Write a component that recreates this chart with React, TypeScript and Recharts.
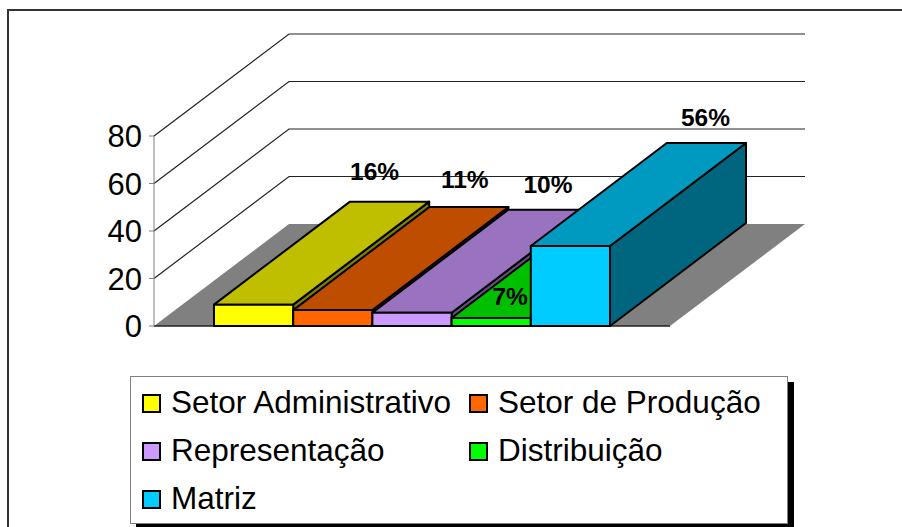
import React from 'react'
import { Bar, BarChart, CartesianGrid, LabelList, Legend, XAxis, YAxis } from 'recharts'

const seriesNames = ['Setor Administrativo', 'Setor de Produção', 'Representação', 'Distribuição', 'Matriz']
// bar heights as read against the drawn axis, the printed percents are separate
const seriesValues = [9, 6.7, 5.6, 3.4, 33.7]
const percentLabels = ['16%', '11%', '10%', '7%', '56%']
const axisTicks = [0, 20, 40, 60, 80]

const frontColors = ['#ffff00', '#ff6600', '#cc99ff', '#00ff00', '#00ccff']
const topColors = ['#bfbf00', '#bf4d00', '#9973bf', '#00bf00', '#0099bf']
const sideColors = ['#808000', '#803300', '#664d80', '#008000', '#006680']

// office places the value labels a bit off the bar, so nudge each one
const labelNudgeX = [-15, -4, 0, -117, -1]
const labelNudgeY = [-22, -19, -17, 90, -17]

const chartData = [
    seriesNames.reduce<Record<string, string | number>>(
        (row, name, i) => ({ ...row, [name]: seriesValues[i] }),
        { group: 'Total' }
    ),
]

const FONT = '"Liberation Sans", Arial, sans-serif'
const DEPTH_X = 136
const DEPTH_Y = 103
const WALL_X = 135
const WALL_Y = 102

// grid lines are the one layer that stays behind the bars, so the floor and walls live here
const WallLine = ({ x1, x2, y1, y, height }: any) => {
    if (Math.abs(y1 - (y + height)) < 1) {
        return (
            <g>
                <polygon
                    points={`${x1},${y1} ${x1 + WALL_X},${y1 - WALL_Y} ${x2 + WALL_X},${y1 - WALL_Y} ${x2},${y1}`}
                    fill="#808080"
                />
                <line x1={x1} y1={y1} x2={x2} y2={y1} stroke="#222" strokeWidth={1.5} />
            </g>
        )
    }
    return (
        <polyline
            points={`${x1},${y1} ${x1 + WALL_X},${y1 - WALL_Y} ${x2 + WALL_X},${y1 - WALL_Y}`}
            fill="none"
            stroke="#222"
            strokeWidth={1.2}
        />
    )
}

const Box3D = ({ x, y, width, height, fill, top, side }: any) => {
    const r = x + width
    const b = y + height
    return (
        <g stroke="#000" strokeWidth={2} strokeLinejoin="round">
            <polygon
                points={`${r},${y} ${r + DEPTH_X},${y - DEPTH_Y} ${r + DEPTH_X},${b - DEPTH_Y} ${r},${b}`}
                fill={side}
            />
            <polygon
                points={`${x},${y} ${x + DEPTH_X},${y - DEPTH_Y} ${r + DEPTH_X},${y - DEPTH_Y} ${r},${y}`}
                fill={top}
            />
            <rect x={x} y={y} width={width} height={height} fill={fill} />
        </g>
    )
}

const PercentLabel = ({ x, y, width, text, nudgeX, nudgeY }: any) => (
    <text
        x={x + width / 2 + DEPTH_X + nudgeX}
        y={y - DEPTH_Y + nudgeY}
        textAnchor="middle"
        fontFamily={FONT}
        fontWeight="bold"
        fontSize={24.5}
        fill="#000"
    >
        {text}
    </text>
)

const LegendBox = ({ payload }: any) => (
    <div
        style={{
            boxSizing: 'border-box',
            width: 658,
            height: 148,
            background: '#fff',
            border: '1.5px solid #808080',
            boxShadow: '6px 6px 0 #000',
            padding: '2px 0 0 11px',
            display: 'grid',
            gridTemplateColumns: '327px 1fr',
            gridAutoRows: 48,
            fontFamily: FONT,
            fontSize: 31.5,
            color: '#000',
        }}
    >
        {(payload ?? []).map((item: any) => (
            <div key={item.value} style={{ display: 'flex', alignItems: 'center', whiteSpace: 'nowrap' }}>
                <span
                    style={{
                        boxSizing: 'border-box',
                        width: 19,
                        height: 19,
                        marginRight: 10,
                        background: item.color,
                        border: '2px solid #000',
                    }}
                />
                <span style={{ position: 'relative', top: -1 }}>{item.value}</span>
            </div>
        ))}
    </div>
)

const App = () => {
    return (
        <div style={{ position: 'absolute', left: 0, top: 0, width: 902, height: 527, overflow: 'hidden', background: '#fff' }}>
            <div
                style={{
                    position: 'absolute',
                    left: 7,
                    top: 9,
                    right: 0,
                    bottom: 0,
                    borderTop: '2px solid #333',
                    borderLeft: '2px solid #333',
                }}
            />
            <BarChart
                width={902}
                height={527}
                data={chartData}
                margin={{ top: 136, right: 232, bottom: 201, left: 94 }}
                barSize={79.2}
                barGap={0}
                style={{ position: 'absolute', left: 0, top: 0 }}
            >
                <CartesianGrid vertical={false} horizontal={WallLine} />
                <XAxis dataKey="group" hide />
                <YAxis
                    width={60}
                    domain={[0, 80]}
                    ticks={axisTicks}
                    interval={0}
                    tick={{ fontFamily: FONT, fontSize: 31, fill: '#000' }}
                    tickSize={5}
                    tickMargin={7}
                    stroke="#808080"
                />
                <Legend
                    layout="vertical"
                    align="center"
                    verticalAlign="middle"
                    itemSorter={null}
                    content={LegendBox}
                    wrapperStyle={{ position: 'absolute', left: 130, top: 376, width: 658, height: 148, margin: 0 }}
                />
                {seriesNames.map((name, i) => (
                    <Bar
                        key={name}
                        dataKey={name}
                        name={name}
                        fill={frontColors[i]}
                        isAnimationActive={false}
                        shape={(p: any) => <Box3D {...p} top={topColors[i]} side={sideColors[i]} />}
                    >
                        <LabelList
                            dataKey={name}
                            content={(p: any) => (
                                <PercentLabel {...p} text={percentLabels[i]} nudgeX={labelNudgeX[i]} nudgeY={labelNudgeY[i]} />
                            )}
                        />
                    </Bar>
                ))}
            </BarChart>
        </div>
    )
}

export default App
